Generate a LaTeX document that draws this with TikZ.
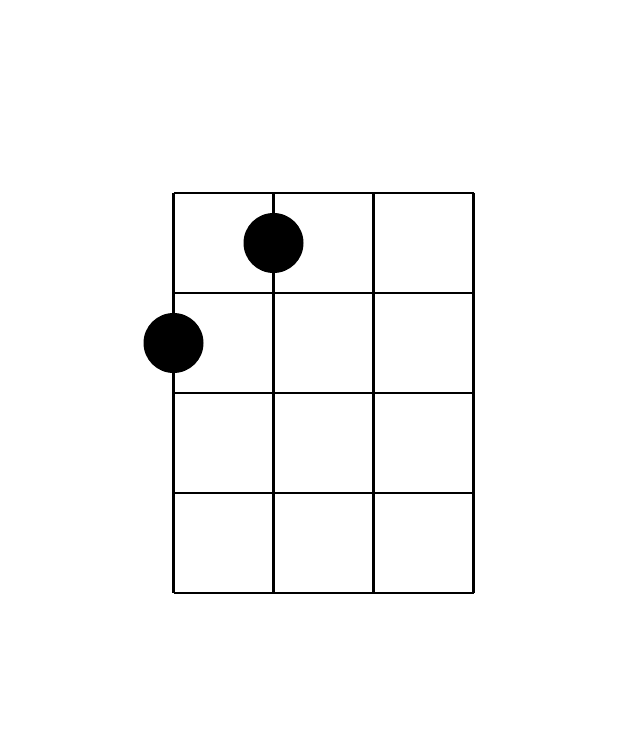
\documentclass[tikz,border=0pt]{standalone}

\tikzset{
  fret/.style={line width=0.75pt, black},
  finger/.style={circle, fill=black, inner sep=0pt, minimum size=0.6cm}
}

\begin{document}
\begin{tikzpicture}
  \useasboundingbox (0, 0) rectangle (6.41, -7.40);
  \begin{scope}[xshift=1.735cm, yshift=-1.93cm]
    % strings
    \foreach \x in {0, 1, 2, 3}
      \draw [fret] (\x, 0) -- (\x, -4);
    % frets
    \foreach \y in {0, 1, 2, 3, 4}
      \draw [fret] (0, -\y) -- (3, -\y);
    \node [finger] (f1) at (1, -0.5) {};
    \node [finger] (f2) at (0, -1.5) {};
  \end{scope}
\end{tikzpicture}
\end{document}
